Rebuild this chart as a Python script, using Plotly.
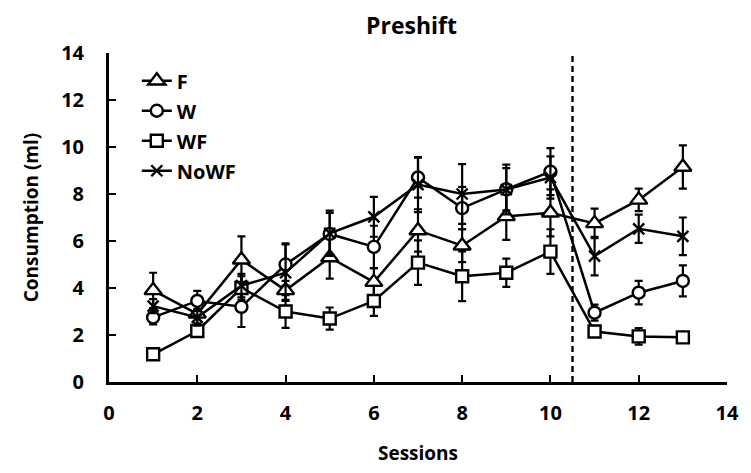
import plotly.graph_objects as go

sessions = list(range(1, 14))

F = [3.9, 2.9, 5.2, 3.9, 5.3, 4.25, 6.45, 5.8, 7.05, 7.2, 6.75, 7.75, 9.15]
F_err = [0.75, 0.4, 1.0, 0.4, 0.9, 0.6, 0.9, 0.7, 1.0, 1.0, 0.63, 0.48, 0.92]

W = [2.75, 3.45, 3.2, 5.0, 6.3, 5.75, 8.7, 7.4, 8.2, 8.95, 2.95, 3.8, 4.3]
W_err = [0.3, 0.43, 0.86, 0.9, 0.9, 0.9, 0.85, 0.9, 0.9, 1.0, 0.34, 0.5, 0.66]

WF = [1.18, 2.17, 4.0, 3.0, 2.7, 3.45, 5.08, 4.5, 4.65, 5.55, 2.15, 1.94, 1.9]
WF_err = [0.1, 0.2, 0.5, 0.7, 0.47, 0.64, 0.95, 1.06, 0.6, 0.95, 0.2, 0.35, 0.2]

NoWF = [3.23, 2.75, 4.1, 4.65, 6.33, 7.03, 8.4, 8.0, 8.19, 8.7, 5.36, 6.52, 6.2]
NoWF_err = [0.3, 0.35, 0.5, 1.2, 0.96, 0.85, 1.17, 1.27, 1.06, 0.9, 0.82, 0.6, 0.8]

shift_at = 10.5
x_ticks = [0, 2, 4, 6, 8, 10, 12, 14]
y_ticks = [0, 2, 4, 6, 8, 10, 12, 14]

FONT = "Open Sans"

series = [
    ("F", F, F_err, "triangle-up", 15),
    ("W", W, W_err, "circle", 12),
    ("WF", WF, WF_err, "square", 12),
    ("NoWF", NoWF, NoWF_err, "x-thin", 11),
]

fig = go.Figure()
for name, vals, errs, sym, size in series:
    fig.add_trace(go.Scatter(
        x=sessions, y=vals, name=f"<b>{name}</b>", mode="lines+markers",
        legendgroup=name,
        line=dict(color="black", width=2.5),
        marker=dict(symbol=sym, size=size, color="white",
                    line=dict(color="black", width=2.4)),
        error_y=dict(type="data", array=errs, visible=True,
                     color="black", thickness=2.2, width=4),
    ))

fig.add_shape(type="line", xref="x", yref="y", x0=shift_at, x1=shift_at,
              y0=0, y1=14, line=dict(color="black", width=2.4, dash="6px,4px"))

fig.update_layout(
    width=751, height=473,
    margin=dict(l=109, r=19, t=53, b=90),
    paper_bgcolor="white", plot_bgcolor="white",
    font=dict(family=FONT, color="black", size=19),
    title=dict(text="<b>Preshift</b>", x=0.548, xanchor="center",
               y=0.945, yanchor="middle", font=dict(size=23)),
    showlegend=True,
    legend=dict(x=0.045, y=0.975, xanchor="left", yanchor="top",
                bgcolor="rgba(0,0,0,0)", tracegroupgap=1,
                font=dict(size=20, family=FONT)),
    xaxis=dict(range=[0, 14], tickvals=x_ticks,
               ticktext=[f"<b>{v}</b>" for v in x_ticks],
               ticks="inside", ticklen=7,
               tickwidth=2, tickcolor="black", showline=True, linecolor="black",
               linewidth=3, showgrid=False, zeroline=False,
               tickfont=dict(size=20), ticklabelstandoff=11,
               title=dict(text="<b>Sessions</b>", standoff=22,
                          font=dict(size=19))),
    yaxis=dict(range=[0, 14], tickvals=y_ticks,
               ticktext=[f"<b>{v}</b>" for v in y_ticks],
               ticks="inside", ticklen=7,
               tickwidth=2, tickcolor="black", showline=True, linecolor="black",
               linewidth=3, showgrid=False, zeroline=False,
               tickfont=dict(size=20), ticklabelstandoff=18,
               title=dict(text="<b>Consumption (ml)</b>", standoff=18,
                          font=dict(size=19))),
)

fig.write_html("out.html")
